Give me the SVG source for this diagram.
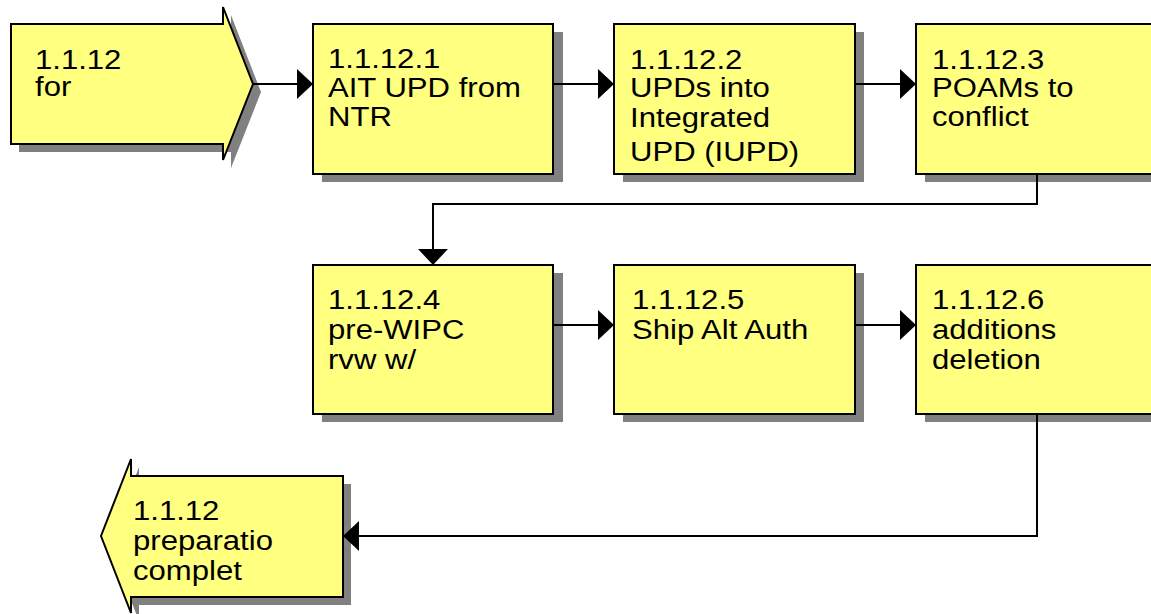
<svg xmlns="http://www.w3.org/2000/svg" width="1151" height="614" viewBox="0 0 1151 614">
<style>
.sh{fill:#808080;stroke:none}
.bx{fill:#FFFF80;stroke:#000;stroke-width:2}
.t{font-family:"Liberation Sans",Arial,sans-serif;font-size:28px;fill:#000}
.cn{fill:none;stroke:#000;stroke-width:2}
</style>
<defs>
<marker id="ah" markerUnits="userSpaceOnUse" markerWidth="16" markerHeight="30" refX="16" refY="15" orient="auto" viewBox="0 0 16 30">
<path d="M0,0 L16,15 L0,30 Z" fill="#000"/>
</marker>
</defs>
<rect width="1151" height="614" fill="#fff"/>
<g id="start">
<polygon class="sh" points="19,32 231,32 231,15 261,92 231,168 231,152 19,152"/>
<polygon class="bx" points="11,24 223,24 223,7 253,84 223,160 223,144 11,144"/>
<text class="t" transform="matrix(1.11 0 0 1 35 0)"><tspan x="0" y="69">1.1.12</tspan><tspan x="0" y="96">for</tspan></text>
</g>
<g id="n1">
<rect class="sh" x="322" y="32" width="241" height="150"/>
<rect class="bx" x="313" y="24" width="240" height="150"/>
<text class="t" transform="matrix(1.11 0 0 1 328 0)"><tspan x="0" y="68">1.1.12.1</tspan><tspan x="0" y="97">AIT UPD from</tspan><tspan x="0" y="126">NTR</tspan></text>
</g>
<g id="n2">
<rect class="sh" x="623" y="32" width="241" height="150"/>
<rect class="bx" x="614" y="24" width="241" height="150"/>
<text class="t" transform="matrix(1.11 0 0 1 630 0)"><tspan x="0" y="69">1.1.12.2</tspan><tspan x="0" y="97">UPDs into</tspan><tspan x="0" y="127">Integrated</tspan><tspan x="0" y="161">UPD (IUPD)</tspan></text>
</g>
<g id="n3">
<rect class="sh" x="925" y="32" width="241" height="150"/>
<rect class="bx" x="916" y="24" width="241" height="150"/>
<text class="t" transform="matrix(1.11 0 0 1 932 0)"><tspan x="0" y="69">1.1.12.3</tspan><tspan x="0" y="97">POAMs to</tspan><tspan x="0" y="126">conflict</tspan></text>
</g>
<g id="n4">
<rect class="sh" x="322" y="273" width="241" height="149"/>
<rect class="bx" x="313" y="265" width="240" height="149"/>
<text class="t" transform="matrix(1.11 0 0 1 328 0)"><tspan x="0" y="309">1.1.12.4</tspan><tspan x="0" y="339">pre-WIPC</tspan><tspan x="0" y="369">rvw w/</tspan></text>
</g>
<g id="n5">
<rect class="sh" x="623" y="273" width="241" height="149"/>
<rect class="bx" x="614" y="265" width="241" height="149"/>
<text class="t" transform="matrix(1.11 0 0 1 632 0)"><tspan x="0" y="309">1.1.12.5</tspan><tspan x="0" y="339">Ship Alt Auth</tspan></text>
</g>
<g id="n6">
<rect class="sh" x="925" y="273" width="241" height="149"/>
<rect class="bx" x="916" y="265" width="241" height="149"/>
<text class="t" transform="matrix(1.11 0 0 1 932 0)"><tspan x="0" y="309">1.1.12.6</tspan><tspan x="0" y="339">additions</tspan><tspan x="0" y="369">deletion</tspan></text>
</g>
<g id="end">
<polygon class="sh" points="351,484 139,484 139,467 109,544 139,621 139,605 351,605"/>
<polygon class="bx" points="343,476 131,476 131,459 101,536 131,613 131,597 343,597"/>
<text class="t" transform="matrix(1.11 0 0 1 133 0)"><tspan x="0" y="520">1.1.12</tspan><tspan x="0" y="550">preparatio</tspan><tspan x="0" y="580">complet</tspan></text>
</g>
<g id="connectors">
<path class="cn" d="M253,84 H313" marker-end="url(#ah)"/>
<path class="cn" d="M553,84 H614" marker-end="url(#ah)"/>
<path class="cn" d="M855,84 H916" marker-end="url(#ah)"/>
<path class="cn" d="M1037,174 V204 H433 V265" marker-end="url(#ah)"/>
<path class="cn" d="M553,325 H614" marker-end="url(#ah)"/>
<path class="cn" d="M855,325 H916" marker-end="url(#ah)"/>
<path class="cn" d="M1037,414 V536 H343" marker-end="url(#ah)"/>
</g>
</svg>
